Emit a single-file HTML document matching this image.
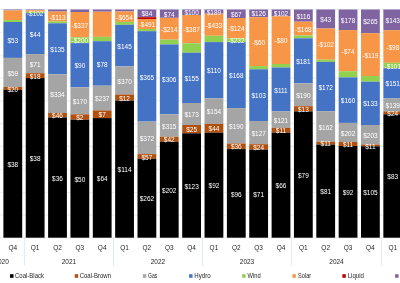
<!DOCTYPE html><html><head><meta charset="utf-8"><style>html,body{margin:0;padding:0;background:#fff;width:400px;height:283px;overflow:hidden}svg{display:block;will-change:transform}text{font-family:"Liberation Sans",sans-serif}</style></head><body>
<svg width="400" height="283" viewBox="0 0 400 283">
<rect width="400" height="283" fill="#fff"/>
<g stroke="#DDE5F0" stroke-width="0.7"><line x1="0" x2="400" y1="9.45" y2="9.45"/><line x1="0" x2="400" y1="32.30" y2="32.30"/><line x1="0" x2="400" y1="55.15" y2="55.15"/><line x1="0" x2="400" y1="78.00" y2="78.00"/><line x1="0" x2="400" y1="100.85" y2="100.85"/><line x1="0" x2="400" y1="123.70" y2="123.70"/><line x1="0" x2="400" y1="146.55" y2="146.55"/><line x1="0" x2="400" y1="169.40" y2="169.40"/><line x1="0" x2="400" y1="192.25" y2="192.25"/><line x1="0" x2="400" y1="215.10" y2="215.10"/><line x1="0" x2="400" y1="237.95" y2="237.95"/></g>
<rect x="3.40" y="9.50" width="18.8" height="0.90" fill="#8064A2"/><rect x="3.40" y="10.40" width="18.8" height="9.70" fill="#F79646"/><rect x="3.40" y="20.10" width="18.8" height="1.90" fill="#92D050"/><rect x="3.40" y="22.00" width="18.8" height="35.90" fill="#4472C4"/><rect x="3.40" y="57.90" width="18.8" height="29.00" fill="#A5A5A5"/><rect x="3.40" y="86.90" width="18.8" height="3.10" fill="#B0500F"/><rect x="3.40" y="90.00" width="18.8" height="147.70" fill="#000000"/><rect x="25.75" y="9.50" width="18.8" height="0.70" fill="#8064A2"/><rect x="25.75" y="10.20" width="18.8" height="1.70" fill="#F79646"/><rect x="25.75" y="11.90" width="18.8" height="1.20" fill="#92D050"/><rect x="25.75" y="13.10" width="18.8" height="41.00" fill="#4472C4"/><rect x="25.75" y="54.10" width="18.8" height="19.10" fill="#A5A5A5"/><rect x="25.75" y="73.20" width="18.8" height="4.90" fill="#B0500F"/><rect x="25.75" y="78.10" width="18.8" height="159.60" fill="#000000"/><rect x="48.10" y="9.50" width="18.8" height="2.10" fill="#8064A2"/><rect x="48.10" y="11.60" width="18.8" height="9.80" fill="#F79646"/><rect x="48.10" y="21.40" width="18.8" height="1.90" fill="#92D050"/><rect x="48.10" y="23.30" width="18.8" height="51.00" fill="#4472C4"/><rect x="48.10" y="74.30" width="18.8" height="38.70" fill="#A5A5A5"/><rect x="48.10" y="113.00" width="18.8" height="4.50" fill="#B0500F"/><rect x="48.10" y="117.50" width="18.8" height="120.20" fill="#000000"/><rect x="70.45" y="9.50" width="18.8" height="2.50" fill="#8064A2"/><rect x="70.45" y="12.00" width="18.8" height="25.40" fill="#F79646"/><rect x="70.45" y="37.40" width="18.8" height="5.70" fill="#92D050"/><rect x="70.45" y="43.10" width="18.8" height="44.20" fill="#4472C4"/><rect x="70.45" y="87.30" width="18.8" height="27.00" fill="#A5A5A5"/><rect x="70.45" y="114.30" width="18.8" height="5.40" fill="#B0500F"/><rect x="70.45" y="119.70" width="18.8" height="118.00" fill="#000000"/><rect x="92.80" y="9.50" width="18.8" height="2.20" fill="#8064A2"/><rect x="92.80" y="11.70" width="18.8" height="25.20" fill="#F79646"/><rect x="92.80" y="36.90" width="18.8" height="4.30" fill="#92D050"/><rect x="92.80" y="41.20" width="18.8" height="44.50" fill="#4472C4"/><rect x="92.80" y="85.70" width="18.8" height="24.70" fill="#A5A5A5"/><rect x="92.80" y="110.40" width="18.8" height="7.70" fill="#B0500F"/><rect x="92.80" y="118.10" width="18.8" height="119.60" fill="#000000"/><rect x="115.15" y="9.50" width="18.8" height="2.00" fill="#8064A2"/><rect x="115.15" y="11.50" width="18.8" height="10.40" fill="#F79646"/><rect x="115.15" y="21.90" width="18.8" height="2.90" fill="#92D050"/><rect x="115.15" y="24.80" width="18.8" height="41.60" fill="#4472C4"/><rect x="115.15" y="66.40" width="18.8" height="28.10" fill="#A5A5A5"/><rect x="115.15" y="94.50" width="18.8" height="6.10" fill="#B0500F"/><rect x="115.15" y="100.60" width="18.8" height="137.10" fill="#000000"/><rect x="137.50" y="9.50" width="18.8" height="7.70" fill="#8064A2"/><rect x="137.50" y="17.20" width="18.8" height="1.80" fill="#C00000"/><rect x="137.50" y="19.00" width="18.8" height="10.00" fill="#F79646"/><rect x="137.50" y="29.00" width="18.8" height="2.20" fill="#92D050"/><rect x="137.50" y="31.20" width="18.8" height="90.40" fill="#4472C4"/><rect x="137.50" y="121.60" width="18.8" height="32.50" fill="#A5A5A5"/><rect x="137.50" y="154.10" width="18.8" height="4.70" fill="#B0500F"/><rect x="137.50" y="158.80" width="18.8" height="78.90" fill="#000000"/><rect x="159.85" y="9.50" width="18.8" height="8.30" fill="#8064A2"/><rect x="159.85" y="17.80" width="18.8" height="21.80" fill="#F79646"/><rect x="159.85" y="39.60" width="18.8" height="4.80" fill="#92D050"/><rect x="159.85" y="44.40" width="18.8" height="69.90" fill="#4472C4"/><rect x="159.85" y="114.30" width="18.8" height="22.50" fill="#A5A5A5"/><rect x="159.85" y="136.80" width="18.8" height="4.90" fill="#B0500F"/><rect x="159.85" y="141.70" width="18.8" height="96.00" fill="#000000"/><rect x="182.20" y="9.50" width="18.8" height="5.50" fill="#8064A2"/><rect x="182.20" y="15.00" width="18.8" height="28.30" fill="#F79646"/><rect x="182.20" y="43.30" width="18.8" height="9.40" fill="#92D050"/><rect x="182.20" y="52.70" width="18.8" height="50.30" fill="#4472C4"/><rect x="182.20" y="103.00" width="18.8" height="22.00" fill="#A5A5A5"/><rect x="182.20" y="125.00" width="18.8" height="8.30" fill="#B0500F"/><rect x="182.20" y="133.30" width="18.8" height="104.40" fill="#000000"/><rect x="204.55" y="9.50" width="18.8" height="4.25" fill="#8064A2"/><rect x="204.55" y="13.75" width="18.8" height="22.05" fill="#F79646"/><rect x="204.55" y="35.80" width="18.8" height="6.30" fill="#92D050"/><rect x="204.55" y="42.10" width="18.8" height="56.30" fill="#4472C4"/><rect x="204.55" y="98.40" width="18.8" height="25.50" fill="#A5A5A5"/><rect x="204.55" y="123.90" width="18.8" height="8.80" fill="#B0500F"/><rect x="204.55" y="132.70" width="18.8" height="105.00" fill="#000000"/><rect x="226.90" y="9.50" width="18.8" height="8.50" fill="#8064A2"/><rect x="226.90" y="18.00" width="18.8" height="20.30" fill="#F79646"/><rect x="226.90" y="38.30" width="18.8" height="3.80" fill="#92D050"/><rect x="226.90" y="42.10" width="18.8" height="66.00" fill="#4472C4"/><rect x="226.90" y="108.10" width="18.8" height="35.40" fill="#A5A5A5"/><rect x="226.90" y="143.50" width="18.8" height="5.60" fill="#B0500F"/><rect x="226.90" y="149.10" width="18.8" height="88.60" fill="#000000"/><rect x="249.25" y="9.50" width="18.8" height="7.70" fill="#8064A2"/><rect x="249.25" y="17.20" width="18.8" height="48.90" fill="#F79646"/><rect x="249.25" y="66.10" width="18.8" height="3.20" fill="#92D050"/><rect x="249.25" y="69.30" width="18.8" height="51.70" fill="#4472C4"/><rect x="249.25" y="121.00" width="18.8" height="23.20" fill="#A5A5A5"/><rect x="249.25" y="144.20" width="18.8" height="5.40" fill="#B0500F"/><rect x="249.25" y="149.60" width="18.8" height="88.10" fill="#000000"/><rect x="271.60" y="9.50" width="18.8" height="6.80" fill="#8064A2"/><rect x="271.60" y="16.30" width="18.8" height="47.70" fill="#F79646"/><rect x="271.60" y="64.00" width="18.8" height="3.50" fill="#92D050"/><rect x="271.60" y="67.50" width="18.8" height="43.90" fill="#4472C4"/><rect x="271.60" y="111.40" width="18.8" height="16.50" fill="#A5A5A5"/><rect x="271.60" y="127.90" width="18.8" height="4.80" fill="#B0500F"/><rect x="271.60" y="132.70" width="18.8" height="105.00" fill="#000000"/><rect x="293.95" y="9.50" width="18.8" height="12.20" fill="#8064A2"/><rect x="293.95" y="21.70" width="18.8" height="13.80" fill="#F79646"/><rect x="293.95" y="35.50" width="18.8" height="2.80" fill="#92D050"/><rect x="293.95" y="38.30" width="18.8" height="45.00" fill="#4472C4"/><rect x="293.95" y="83.30" width="18.8" height="22.90" fill="#A5A5A5"/><rect x="293.95" y="106.20" width="18.8" height="5.20" fill="#B0500F"/><rect x="293.95" y="111.40" width="18.8" height="126.30" fill="#000000"/><rect x="316.30" y="9.50" width="18.8" height="19.00" fill="#8064A2"/><rect x="316.30" y="28.50" width="18.8" height="31.20" fill="#F79646"/><rect x="316.30" y="59.70" width="18.8" height="2.20" fill="#92D050"/><rect x="316.30" y="61.90" width="18.8" height="49.30" fill="#4472C4"/><rect x="316.30" y="111.20" width="18.8" height="30.50" fill="#A5A5A5"/><rect x="316.30" y="141.70" width="18.8" height="2.90" fill="#B0500F"/><rect x="316.30" y="144.60" width="18.8" height="93.10" fill="#000000"/><rect x="338.65" y="9.50" width="18.8" height="20.60" fill="#8064A2"/><rect x="338.65" y="30.10" width="18.8" height="41.10" fill="#F79646"/><rect x="338.65" y="71.20" width="18.8" height="6.20" fill="#92D050"/><rect x="338.65" y="77.40" width="18.8" height="45.50" fill="#4472C4"/><rect x="338.65" y="122.90" width="18.8" height="19.10" fill="#A5A5A5"/><rect x="338.65" y="142.00" width="18.8" height="4.00" fill="#B0500F"/><rect x="338.65" y="146.00" width="18.8" height="91.70" fill="#000000"/><rect x="361.00" y="9.50" width="18.8" height="23.70" fill="#8064A2"/><rect x="361.00" y="33.20" width="18.8" height="42.80" fill="#F79646"/><rect x="361.00" y="76.00" width="18.8" height="5.75" fill="#92D050"/><rect x="361.00" y="81.75" width="18.8" height="43.25" fill="#4472C4"/><rect x="361.00" y="125.00" width="18.8" height="19.50" fill="#A5A5A5"/><rect x="361.00" y="144.50" width="18.8" height="1.80" fill="#B0500F"/><rect x="361.00" y="146.30" width="18.8" height="91.40" fill="#000000"/><rect x="383.35" y="9.50" width="18.8" height="20.70" fill="#8064A2"/><rect x="383.35" y="30.20" width="18.8" height="32.60" fill="#F79646"/><rect x="383.35" y="62.80" width="18.8" height="5.40" fill="#92D050"/><rect x="383.35" y="68.20" width="18.8" height="30.30" fill="#4472C4"/><rect x="383.35" y="98.50" width="18.8" height="12.90" fill="#A5A5A5"/><rect x="383.35" y="111.40" width="18.8" height="2.90" fill="#B0500F"/><rect x="383.35" y="114.30" width="18.8" height="123.40" fill="#000000"/>
<g fill="#fff" font-size="7.2" text-anchor="middle"><text transform="translate(12.80,43.05) scale(0.9,1)">$53</text><text transform="translate(12.80,75.50) scale(0.9,1)">$59</text><text transform="translate(12.80,91.55) scale(0.9,1)">$20</text><text transform="translate(12.80,166.95) scale(0.9,1)">$38</text><text transform="translate(35.15,15.60) scale(0.9,1)">-$102</text><text transform="translate(35.15,36.70) scale(0.9,1)">$44</text><text transform="translate(35.15,66.75) scale(0.9,1)">$71</text><text transform="translate(35.15,78.75) scale(0.9,1)">$18</text><text transform="translate(35.15,161.00) scale(0.9,1)">$38</text><text transform="translate(57.50,19.60) scale(0.9,1)">-$113</text><text transform="translate(57.50,51.90) scale(0.9,1)">$135</text><text transform="translate(57.50,96.75) scale(0.9,1)">$334</text><text transform="translate(57.50,118.35) scale(0.9,1)">$46</text><text transform="translate(57.50,180.70) scale(0.9,1)">$36</text><text transform="translate(79.85,27.80) scale(0.9,1)">-$337</text><text transform="translate(79.85,43.35) scale(0.9,1)">-$200</text><text transform="translate(79.85,68.30) scale(0.9,1)">$90</text><text transform="translate(79.85,103.90) scale(0.9,1)">$170</text><text transform="translate(79.85,120.10) scale(0.9,1)">$2</text><text transform="translate(79.85,181.80) scale(0.9,1)">$50</text><text transform="translate(102.20,66.55) scale(0.9,1)">$78</text><text transform="translate(102.20,101.15) scale(0.9,1)">$237</text><text transform="translate(102.20,117.35) scale(0.9,1)">$7</text><text transform="translate(102.20,181.00) scale(0.9,1)">$64</text><text transform="translate(124.55,19.80) scale(0.9,1)">-$654</text><text transform="translate(124.55,48.70) scale(0.9,1)">$145</text><text transform="translate(124.55,83.55) scale(0.9,1)">$370</text><text transform="translate(124.55,100.65) scale(0.9,1)">$12</text><text transform="translate(124.55,172.25) scale(0.9,1)">$114</text><text transform="translate(146.90,16.45) scale(0.9,1)">$84</text><text transform="translate(146.90,27.10) scale(0.9,1)">-$491</text><text transform="translate(146.90,79.50) scale(0.9,1)">$365</text><text transform="translate(146.90,140.95) scale(0.9,1)">$372</text><text transform="translate(146.90,159.55) scale(0.9,1)">$57</text><text transform="translate(146.90,201.35) scale(0.9,1)">$262</text><text transform="translate(169.25,16.75) scale(0.9,1)">$74</text><text transform="translate(169.25,31.80) scale(0.9,1)">-$214</text><text transform="translate(169.25,82.45) scale(0.9,1)">$306</text><text transform="translate(169.25,128.65) scale(0.9,1)">$315</text><text transform="translate(169.25,142.35) scale(0.9,1)">$42</text><text transform="translate(169.25,192.80) scale(0.9,1)">$202</text><text transform="translate(191.60,15.35) scale(0.9,1)">$100</text><text transform="translate(191.60,32.25) scale(0.9,1)">-$387</text><text transform="translate(191.60,80.95) scale(0.9,1)">$155</text><text transform="translate(191.60,117.10) scale(0.9,1)">$173</text><text transform="translate(191.60,132.25) scale(0.9,1)">$25</text><text transform="translate(191.60,188.60) scale(0.9,1)">$123</text><text transform="translate(213.95,14.72) scale(0.9,1)">$189</text><text transform="translate(213.95,27.88) scale(0.9,1)">-$433</text><text transform="translate(213.95,73.35) scale(0.9,1)">$110</text><text transform="translate(213.95,114.25) scale(0.9,1)">$154</text><text transform="translate(213.95,131.40) scale(0.9,1)">$44</text><text transform="translate(213.95,188.30) scale(0.9,1)">$92</text><text transform="translate(236.30,16.85) scale(0.9,1)">$67</text><text transform="translate(236.30,31.25) scale(0.9,1)">-$124</text><text transform="translate(236.30,43.30) scale(0.9,1)">-$232</text><text transform="translate(236.30,78.20) scale(0.9,1)">$168</text><text transform="translate(236.30,128.90) scale(0.9,1)">$190</text><text transform="translate(236.30,149.40) scale(0.9,1)">$36</text><text transform="translate(236.30,196.50) scale(0.9,1)">$96</text><text transform="translate(258.65,16.45) scale(0.9,1)">$126</text><text transform="translate(258.65,44.75) scale(0.9,1)">-$60</text><text transform="translate(258.65,98.25) scale(0.9,1)">$103</text><text transform="translate(258.65,135.70) scale(0.9,1)">$127</text><text transform="translate(258.65,150.00) scale(0.9,1)">$24</text><text transform="translate(258.65,196.75) scale(0.9,1)">$71</text><text transform="translate(281.00,16.00) scale(0.9,1)">$102</text><text transform="translate(281.00,43.25) scale(0.9,1)">-$80</text><text transform="translate(281.00,92.55) scale(0.9,1)">$111</text><text transform="translate(281.00,122.75) scale(0.9,1)">$121</text><text transform="translate(281.00,133.40) scale(0.9,1)">$11</text><text transform="translate(281.00,188.30) scale(0.9,1)">$66</text><text transform="translate(303.35,18.70) scale(0.9,1)">$116</text><text transform="translate(303.35,31.70) scale(0.9,1)">-$168</text><text transform="translate(303.35,63.90) scale(0.9,1)">$181</text><text transform="translate(303.35,97.85) scale(0.9,1)">$190</text><text transform="translate(303.35,111.90) scale(0.9,1)">$13</text><text transform="translate(303.35,177.65) scale(0.9,1)">$79</text><text transform="translate(325.70,22.10) scale(0.9,1)">$43</text><text transform="translate(325.70,47.20) scale(0.9,1)">-$102</text><text transform="translate(325.70,89.65) scale(0.9,1)">$172</text><text transform="translate(325.70,129.55) scale(0.9,1)">$162</text><text transform="translate(325.70,146.25) scale(0.9,1)">$11</text><text transform="translate(325.70,194.25) scale(0.9,1)">$81</text><text transform="translate(348.05,22.90) scale(0.9,1)">$178</text><text transform="translate(348.05,53.75) scale(0.9,1)">-$74</text><text transform="translate(348.05,103.25) scale(0.9,1)">$160</text><text transform="translate(348.05,135.55) scale(0.9,1)">$202</text><text transform="translate(348.05,147.10) scale(0.9,1)">$11</text><text transform="translate(348.05,194.95) scale(0.9,1)">$92</text><text transform="translate(370.40,24.45) scale(0.9,1)">$265</text><text transform="translate(370.40,57.70) scale(0.9,1)">-$119</text><text transform="translate(370.40,106.47) scale(0.9,1)">$133</text><text transform="translate(370.40,137.85) scale(0.9,1)">$203</text><text transform="translate(370.40,148.50) scale(0.9,1)">$11</text><text transform="translate(370.40,195.10) scale(0.9,1)">$105</text><text transform="translate(392.75,22.95) scale(0.9,1)">$143</text><text transform="translate(392.75,49.60) scale(0.9,1)">-$98</text><text transform="translate(392.75,68.60) scale(0.9,1)">-$101</text><text transform="translate(392.75,86.45) scale(0.9,1)">$151</text><text transform="translate(392.75,108.05) scale(0.9,1)">$139</text><text transform="translate(392.75,115.95) scale(0.9,1)">$24</text><text transform="translate(392.75,179.10) scale(0.9,1)">$83</text></g>
<g fill="#262626" font-size="6.5" text-anchor="middle"><text x="12.80" y="250.25">Q4</text><text x="35.15" y="250.25">Q1</text><text x="57.50" y="250.25">Q2</text><text x="79.85" y="250.25">Q3</text><text x="102.20" y="250.25">Q4</text><text x="124.55" y="250.25">Q1</text><text x="146.90" y="250.25">Q2</text><text x="169.25" y="250.25">Q3</text><text x="191.60" y="250.25">Q4</text><text x="213.95" y="250.25">Q1</text><text x="236.30" y="250.25">Q2</text><text x="258.65" y="250.25">Q3</text><text x="281.00" y="250.25">Q4</text><text x="303.35" y="250.25">Q1</text><text x="325.70" y="250.25">Q2</text><text x="348.05" y="250.25">Q3</text><text x="370.40" y="250.25">Q4</text><text x="392.75" y="250.25">Q1</text></g>
<g stroke="#D3DFEF" stroke-width="0.7"><line x1="24.40" x2="24.40" y1="237.7" y2="266"/><line x1="113.50" x2="113.50" y1="237.7" y2="266"/><line x1="202.40" x2="202.40" y1="237.7" y2="266"/><line x1="291.60" x2="291.60" y1="237.7" y2="266"/><line x1="381.40" x2="381.40" y1="237.7" y2="266"/></g>
<g fill="#262626" font-size="6.5" text-anchor="middle"><text x="68.95" y="263.9">2021</text><text x="157.95" y="263.9">2022</text><text x="247.00" y="263.9">2023</text><text x="336.50" y="263.9">2024</text><text x="8.8" y="263.9" text-anchor="end">2020</text></g>
<g fill="#262626" font-size="6.6"><rect x="10.06" y="274.2" width="3.45" height="3.6" fill="#000000"/><text x="15.06" y="277.9" textLength="28.90" lengthAdjust="spacingAndGlyphs">Coal-Black</text><rect x="74.70" y="274.2" width="3.45" height="3.6" fill="#B0500F"/><text x="79.70" y="277.9" textLength="31.30" lengthAdjust="spacingAndGlyphs">Coal-Brown</text><rect x="142.85" y="274.2" width="3.45" height="3.6" fill="#A5A5A5"/><text x="147.95" y="277.9" textLength="9.30" lengthAdjust="spacingAndGlyphs">Gas</text><rect x="189.10" y="274.2" width="3.45" height="3.6" fill="#4472C4"/><text x="194.25" y="277.9" textLength="16.35" lengthAdjust="spacingAndGlyphs">Hydro</text><rect x="242.10" y="274.2" width="3.45" height="3.6" fill="#92D050"/><text x="247.50" y="277.9" textLength="13.10" lengthAdjust="spacingAndGlyphs">Wind</text><rect x="292.40" y="274.2" width="3.45" height="3.6" fill="#F79646"/><text x="298.10" y="277.9" textLength="13.10" lengthAdjust="spacingAndGlyphs">Solar</text><rect x="342.35" y="274.2" width="3.45" height="3.6" fill="#C00000"/><text x="347.70" y="277.9" textLength="16.25" lengthAdjust="spacingAndGlyphs">Liquid</text><rect x="395.10" y="274.2" width="3.45" height="3.6" fill="#8064A2"/></g>
</svg></body></html>
